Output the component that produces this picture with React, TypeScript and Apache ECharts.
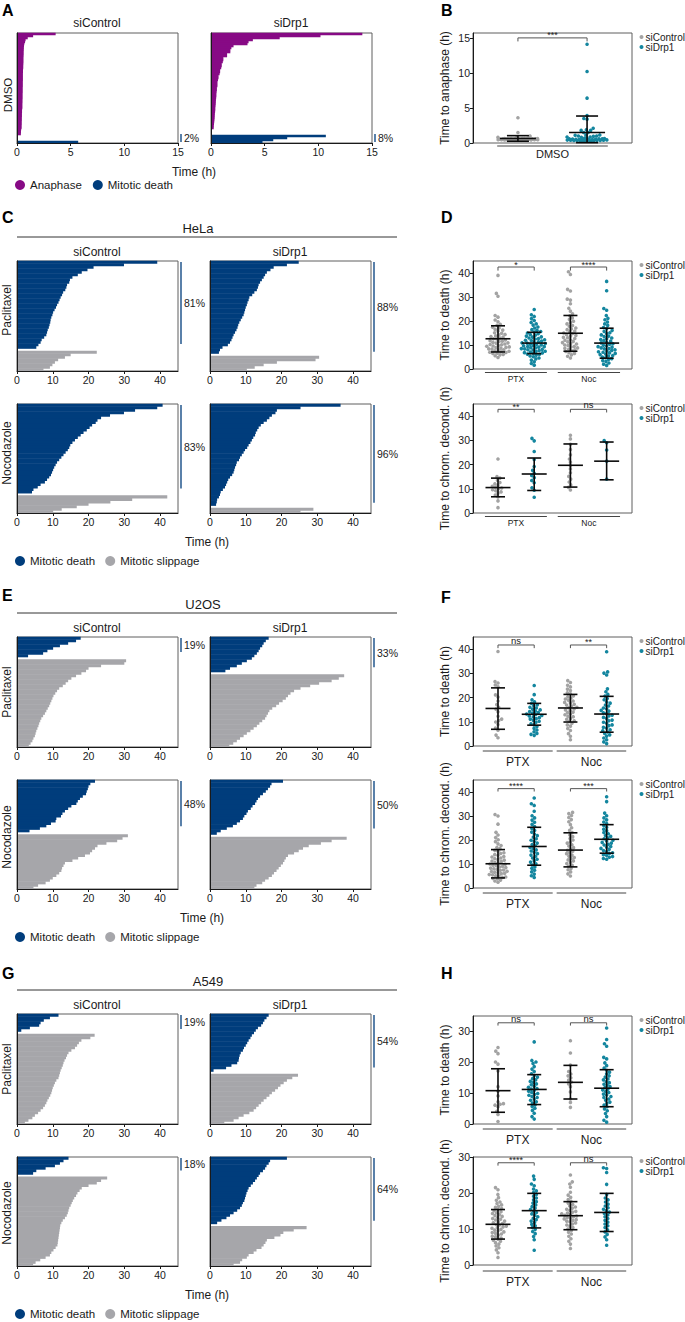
import React, { useEffect, useRef } from "react";
import * as echarts from "echarts";

const FONT = '"Liberation Sans", Arial, Helvetica, sans-serif';
const INK = "#1a1a1a";
const FRAME = "#5e5e5e";
const PURPLE = "#870a85";
const BLUE = "#003d7c";
const SLIP = "#a6a6aa";
const CTRL = "#a3a3a3";
const DRP1 = "#14869f";

// ---------- A / B : DMSO (time to anaphase / mitotic death, h; rows top to bottom)
const aCtrlAnaphase = [3.6, 1.5, 1.0, 0.8, 0.75, 0.68, 0.65, 0.64, 0.63, 0.62, 0.62, 0.61, 0.6, 0.6, 0.6, 0.59, 0.58, 0.58, 0.56, 0.56, 0.55, 0.55, 0.55, 0.55, 0.54, 0.54, 0.54, 0.53, 0.53, 0.53, 0.52, 0.52, 0.52, 0.51, 0.51, 0.5, 0.5, 0.5, 0.47, 0.47, 0.46, 0.46, 0.45, 0.45, 0.44, 0.44, 0.43, 0.43, 0.38, 0.37, 0.36];
const aCtrlDeath = [5.7];
const aDrp1Anaphase = [14.1, 10.2, 6.4, 3.9, 3.5, 3.4, 2.1, 1.9, 1.8, 1.8, 1.5, 1.5, 1.15, 1.15, 1.1, 1.0, 1.0, 0.95, 0.85, 0.85, 0.8, 0.7, 0.7, 0.65, 0.6, 0.6, 0.6, 0.55, 0.55, 0.52, 0.5, 0.5, 0.48, 0.46, 0.45, 0.44, 0.42, 0.4, 0.4, 0.38, 0.36, 0.35, 0.34, 0.32, 0.3, 0.28, 0.26, 0.25];
const aDrp1Death = [10.7, 7.1, 5.8, 4.8];
const aPct = [2, 8];
const bStats = [[0.65, 0.25, 1.05], [1.5, 0.05, 3.85]];
const bSig = ["***"];
const bGroup = ["DMSO"];

// ---------- C : HeLa
const helaPtxCtrlDeath = [39.2, 29.9, 21.4, 19.7, 18.1, 17.0, 15.5, 14.8, 14.6, 14.0, 13.8, 13.5, 12.9, 12.6, 12.2, 11.9, 11.6, 11.2, 10.9, 10.5, 10.1, 9.9, 9.6, 9.4, 9.3, 9.1, 8.9, 8.6, 8.4, 8.2, 7.6, 6.9, 6.6, 6.0, 5.4];
const helaPtxCtrlSlip = [22.3, 15.0, 13.4, 11.5, 10.6, 9.9, 9.2, 7.4];
const helaPtxDrp1Death = [24.8, 21.5, 17.8, 16.9, 15.9, 15.4, 15.0, 14.5, 14.0, 13.6, 13.4, 13.1, 12.4, 11.8, 11.0, 10.8, 10.5, 10.3, 10.0, 9.8, 9.6, 9.4, 9.0, 8.6, 8.2, 7.9, 7.7, 7.4, 7.0, 6.6, 6.3, 6.0, 5.6, 5.0, 3.5, 2.8, 2.5];
const helaPtxDrp1Slip = [30.5, 29.5, 18.7, 15.0, 12.5, 10.3];
const helaNocCtrlDeath = [40.7, 39.2, 33.0, 29.9, 26.0, 23.5, 22.5, 22.0, 21.0, 20.3, 19.5, 18.6, 17.8, 17.0, 16.2, 15.5, 14.9, 14.6, 14.2, 13.6, 13.0, 12.4, 11.8, 11.2, 10.8, 10.4, 10.1, 9.8, 9.5, 9.0, 8.4, 7.8, 6.6, 5.8, 4.6, 4.2];
const helaNocCtrlSlip = [42.0, 32.2, 26.1, 20.0, 16.7, 12.5, 10.1];
const helaNocDrp1Death = [36.5, 25.3, 18.7, 18.3, 17.3, 16.6, 15.9, 15.0, 14.2, 13.6, 13.2, 12.8, 12.6, 12.1, 11.7, 11.3, 10.8, 10.4, 9.8, 9.4, 8.9, 8.4, 8.1, 7.5, 7.3, 7.0, 6.8, 6.6, 6.2, 5.6, 5.1, 4.8, 4.5, 4.2, 3.6, 3.0, 2.8, 2.5, 2.0, 1.9, 1.7];
const helaNocDrp1Slip = [28.9, 25.3];
const helaPct = [81, 88, 83, 96];

// ---------- E : U2OS
const u2osPtxCtrlDeath = [17.8, 16.5, 14.3, 12.0, 10.1, 8.5, 7.3, 3.1];
const u2osPtxCtrlSlip = [30.5, 30.0, 23.5, 20.0, 19.3, 18.0, 16.5, 15.2, 14.3, 13.6, 12.8, 11.8, 11.2, 10.7, 10.2, 9.9, 9.6, 9.3, 9.0, 8.6, 8.2, 7.8, 7.3, 6.8, 6.5, 6.2, 6.0, 5.7, 5.4, 5.2, 5.0, 4.6, 4.3, 3.8, 3.3];
const u2osPtxDrp1Death = [16.4, 15.6, 15.0, 14.6, 14.0, 13.6, 13.1, 12.4, 11.7, 10.3, 8.9, 7.5, 5.6, 4.3];
const u2osPtxDrp1Slip = [37.5, 36.0, 34.0, 30.5, 28.0, 25.3, 23.5, 22.5, 21.8, 21.2, 20.3, 19.3, 18.5, 17.4, 16.6, 16.2, 15.8, 15.4, 14.6, 13.8, 13.1, 12.2, 11.3, 10.3, 9.4, 8.4, 7.5, 6.5, 5.4];
const u2osNocCtrlDeath = [21.8, 20.5, 20.0, 19.8, 19.5, 19.3, 18.4, 17.6, 17.0, 16.6, 15.2, 14.3, 13.4, 12.7, 12.3, 11.0, 10.8, 9.5, 8.2, 6.4, 3.5];
const u2osNocCtrlSlip = [31.0, 29.5, 28.0, 25.0, 22.5, 21.8, 21.0, 20.4, 19.0, 17.1, 15.5, 13.4, 13.0, 12.6, 12.4, 11.8, 11.0, 10.0, 9.2, 8.0, 5.9, 4.6];
const u2osNocDrp1Death = [20.4, 17.2, 16.8, 16.2, 15.6, 14.8, 14.0, 13.4, 13.0, 12.6, 11.9, 11.4, 10.6, 10.2, 9.6, 9.2, 8.4, 7.5, 6.4, 4.7, 3.0, 1.9];
const u2osNocDrp1Slip = [38.2, 34.0, 31.0, 27.6, 26.0, 24.8, 23.5, 21.8, 21.2, 20.8, 20.4, 19.8, 19.2, 18.6, 17.9, 17.3, 16.4, 15.4, 14.6, 13.0, 12.4];
const u2osPct = [19, 33, 48, 50];

// ---------- G : A549
const a549PtxCtrlDeath = [11.6, 9.2, 7.5, 6.6, 6.2, 3.6, 1.2];
const a549PtxCtrlSlip = [21.7, 20.5, 18.0, 17.3, 16.8, 16.2, 15.2, 14.4, 14.0, 13.7, 13.3, 13.0, 12.8, 12.5, 12.2, 12.0, 11.8, 11.6, 11.0, 10.6, 10.3, 10.0, 9.8, 9.6, 9.3, 8.9, 8.5, 8.2, 7.8, 7.3, 6.6, 5.9, 5.0, 4.3, 3.2, 2.2];
const a549PtxDrp1Death = [16.4, 15.8, 15.2, 14.8, 14.3, 13.4, 12.8, 12.3, 11.7, 11.3, 10.8, 10.4, 10.0, 9.5, 9.2, 8.6, 8.3, 8.1, 8.0, 7.6, 6.0, 4.5, 1.0];
const a549PtxDrp1Slip = [24.6, 23.0, 21.5, 20.6, 19.7, 19.0, 18.2, 17.3, 16.6, 15.8, 15.0, 14.3, 13.6, 12.9, 12.2, 11.0, 9.4, 8.0, 6.6, 4.0];
const a549NocCtrlDeath = [14.4, 13.0, 12.0, 10.6, 8.0, 5.4, 4.5];
const a549NocCtrlSlip = [25.2, 23.5, 22.3, 20.0, 18.1, 17.5, 16.9, 16.5, 16.0, 15.6, 15.3, 15.0, 14.6, 14.4, 14.2, 13.9, 13.4, 12.8, 12.4, 12.1, 12.0, 11.9, 11.8, 11.7, 11.6, 11.5, 11.4, 11.3, 10.8, 10.2, 9.6, 9.2, 8.0, 6.5, 5.2, 4.5];
const a549NocDrp1Death = [21.5, 16.8, 16.4, 15.8, 15.4, 14.8, 14.0, 13.6, 13.1, 12.6, 12.0, 11.4, 10.8, 10.5, 10.2, 10.0, 9.8, 9.6, 9.2, 8.9, 8.4, 7.6, 6.6, 5.6, 4.6, 3.2, 2.0];
const a549NocDrp1Slip = [27.0, 23.4, 20.5, 19.7, 18.0, 15.9, 15.5, 15.0, 14.4, 13.0, 12.2, 10.8, 10.3, 9.0, 8.4, 6.6];
const a549Pct = [19, 54, 18, 64];

// ---------- D : HeLa dot plots
const groupNames = ["PTX", "Noc"];
const dDeathPtxCtrl = [39.0, 31.5, 30.3, 22.3, 21.6, 20.4, 19.7, 18.6, 18.2, 17.4, 17.1, 16.5, 16.2, 15.8, 15.1, 14.9, 14.4, 14.2, 13.8, 13.5, 13.3, 12.9, 12.6, 12.5, 12.1, 11.8, 11.6, 11.5, 11.1, 10.9, 10.8, 10.4, 10.2, 10.1, 9.8, 9.6, 9.5, 9.2, 9.0, 8.9, 8.7, 8.4, 8.3, 8.0, 7.9, 7.6, 7.4, 7.2, 7.0, 6.9, 6.6, 6.5, 6.1, 5.9, 5.5, 4.8];
const dDeathPtxDrp1 = [24.8, 22.6, 21.9, 21.0, 20.2, 19.4, 18.8, 18.3, 17.5, 17.1, 16.4, 16.1, 15.6, 15.4, 15.0, 14.7, 14.3, 14.1, 13.7, 13.4, 13.3, 12.9, 12.7, 12.5, 12.2, 12.0, 11.9, 11.6, 11.3, 11.2, 10.9, 10.8, 10.6, 10.3, 10.2, 10.0, 9.8, 9.7, 9.4, 9.3, 9.1, 8.9, 8.8, 8.5, 8.4, 8.2, 8.0, 7.9, 7.7, 7.4, 7.3, 7.1, 6.8, 6.7, 6.5, 6.2, 6.1, 5.8, 5.4, 5.1, 4.6, 4.2, 3.7, 3.0, 2.3, 1.6];
const dDeathNocCtrl = [40.5, 39.4, 33.2, 32.5, 29.1, 28.7, 27.2, 25.3, 24.1, 23.0, 22.2, 21.3, 20.7, 19.9, 19.4, 18.8, 18.1, 17.8, 17.1, 16.7, 16.4, 15.8, 15.5, 15.0, 14.8, 14.3, 14.0, 13.7, 13.2, 13.0, 12.7, 12.2, 12.0, 11.5, 11.3, 11.0, 10.6, 10.4, 10.0, 9.8, 9.4, 9.2, 8.8, 8.6, 8.2, 8.0, 7.6, 7.3, 6.8, 6.5, 5.9, 5.3, 4.6];
const dDeathNocDrp1 = [36.5, 32.6, 25.2, 24.5, 22.3, 21.1, 20.5, 19.6, 18.8, 18.2, 17.3, 16.9, 16.1, 15.7, 15.1, 14.8, 14.2, 13.7, 13.5, 12.9, 12.6, 12.3, 11.8, 11.6, 11.1, 10.9, 10.5, 10.3, 9.9, 9.7, 9.3, 9.1, 8.8, 8.5, 8.4, 8.0, 7.7, 7.5, 7.2, 7.0, 6.7, 6.5, 6.2, 6.0, 5.6, 5.4, 5.0, 4.7, 4.3, 4.0, 3.5, 3.1, 2.5, 2.0, 1.5];
const dDeathStats = [[12.6, 7.1, 18.0], [10.8, 6.4, 15.3], [14.9, 7.4, 22.3], [10.8, 4.5, 17.0]];
const dDeathSig = ["*", "****"];
const dDecPtxCtrl = [22.3, 15.0, 14.4, 13.5, 12.6, 12.0, 11.5, 11.0, 10.6, 10.3, 10.0, 9.6, 9.2, 8.7, 8.2, 7.4, 6.6, 5.0, 2.2];
const dDecPtxDrp1 = [30.8, 29.8, 25.4, 22.1, 19.2, 17.6, 16.4, 15.5, 14.6, 13.4, 12.5, 10.4, 9.4, 6.5];
const dDecNocCtrl = [32.1, 30.6, 28.4, 26.2, 24.0, 22.3, 21.0, 19.6, 18.2, 16.6, 15.1, 14.0, 12.8, 11.6, 10.6, 9.5];
const dDecNocDrp1 = [29.9, 29.0, 26.0, 21.4, 14.0];
const dDecStats = [[10.5, 6.7, 14.4], [16.1, 9.3, 22.7], [19.7, 10.7, 28.5], [21.4, 13.7, 29.3]];
const dDecSig = ["**", "ns"];

// ---------- F : U2OS dot plots
const fDeathPtxCtrl = [39.0, 26.6, 26.0, 25.2, 24.4, 21.1, 20.2, 18.6, 17.1, 16.0, 15.2, 14.1, 12.3, 11.1, 10.5, 9.9, 8.9, 7.4, 6.5, 4.5, 3.4];
const fDeathPtxDrp1 = [25.0, 21.2, 19.1, 18.2, 17.6, 17.0, 16.6, 16.0, 15.7, 15.2, 14.9, 14.4, 14.2, 13.8, 13.6, 13.2, 13.0, 12.6, 12.4, 12.0, 11.7, 11.3, 11.1, 10.6, 10.2, 9.8, 9.2, 8.7, 8.0, 7.3, 6.6, 5.9, 5.2, 4.8, 4.4];
const fDeathNocCtrl = [27.0, 26.2, 25.1, 24.4, 23.5, 22.9, 22.0, 21.5, 20.7, 20.3, 19.8, 19.4, 18.9, 18.6, 18.0, 17.8, 17.2, 16.9, 16.5, 16.0, 15.8, 15.3, 14.9, 14.6, 14.0, 13.8, 13.2, 12.9, 12.3, 12.1, 11.4, 11.0, 10.4, 10.1, 9.4, 8.7, 8.2, 7.2, 6.4, 5.1, 4.0, 2.6];
const fDeathNocDrp1 = [38.9, 30.6, 30.1, 29.3, 23.6, 22.4, 21.3, 20.6, 19.6, 19.1, 18.2, 17.7, 16.9, 16.5, 15.7, 15.4, 14.7, 14.4, 13.7, 13.4, 12.7, 12.4, 11.8, 11.4, 10.7, 10.4, 9.8, 9.4, 8.7, 8.4, 7.7, 7.4, 6.7, 6.3, 5.8, 5.2, 4.6, 4.1, 3.3, 2.6, 1.7, 1.0];
const fDeathStats = [[15.5, 6.9, 24.0], [13.1, 8.6, 17.6], [15.7, 9.9, 21.3], [13.2, 5.7, 20.5]];
const fDeathSig = ["ns", "**"];
const fDecPtxCtrl = [30.6, 30.0, 26.6, 23.2, 22.1, 21.0, 20.1, 19.3, 18.4, 17.7, 16.9, 16.4, 15.7, 15.3, 14.7, 14.4, 13.9, 13.6, 13.1, 12.9, 12.5, 12.2, 11.8, 11.6, 11.2, 11.0, 10.6, 10.4, 10.0, 9.9, 9.5, 9.3, 9.0, 8.8, 8.5, 8.3, 8.0, 7.8, 7.5, 7.4, 7.0, 6.9, 6.6, 6.4, 6.1, 6.0, 5.6, 5.5, 5.1, 5.0, 4.6, 4.4, 4.0, 3.8, 3.3, 2.9, 2.4];
const fDecPtxDrp1 = [37.5, 35.1, 34.4, 32.0, 30.1, 29.2, 28.3, 27.4, 26.5, 25.6, 24.8, 24.0, 23.3, 22.5, 21.8, 21.2, 20.5, 19.9, 19.4, 18.7, 18.1, 17.6, 16.9, 16.5, 15.9, 15.4, 14.8, 14.3, 13.7, 13.2, 12.5, 12.0, 11.3, 10.8, 10.1, 9.6, 8.8, 8.2, 7.4, 6.7, 5.8, 5.1, 4.4];
const fDecNocCtrl = [31.5, 31.0, 30.2, 29.4, 28.5, 27.6, 26.4, 25.1, 24.0, 23.1, 22.1, 21.4, 20.6, 20.0, 19.2, 18.7, 18.0, 17.5, 16.8, 16.3, 15.7, 15.3, 14.7, 14.3, 13.7, 13.3, 12.7, 12.3, 11.7, 11.3, 10.7, 10.2, 9.5, 9.0, 8.2, 7.6, 6.7, 5.9, 5.0];
const fDecNocDrp1 = [38.0, 36.0, 31.2, 30.1, 29.2, 28.4, 27.5, 26.8, 26.0, 25.3, 24.5, 23.9, 23.1, 22.6, 21.9, 21.5, 20.9, 20.5, 19.9, 19.6, 19.0, 18.7, 18.2, 17.9, 17.3, 17.0, 16.5, 16.1, 15.6, 15.2, 14.7, 14.4, 13.9, 13.6, 13.1, 12.8, 12.3, 12.0];
const fDecStats = [[10.1, 4.2, 16.0], [17.3, 9.5, 25.3], [15.8, 8.8, 23.0], [20.3, 14.5, 26.4]];
const fDecSig = ["****", "***"];

// ---------- H : A549 dot plots
const hDeathPtxCtrl = [24.8, 23.6, 22.8, 20.1, 19.4, 17.2, 12.1, 10.6, 9.1, 7.2, 6.6, 6.4, 6.1, 5.6, 4.1, 3.1, 0.8];
const hDeathPtxDrp1 = [26.6, 20.6, 20.1, 19.6, 18.6, 17.8, 17.0, 16.3, 15.7, 15.2, 14.7, 14.3, 13.8, 13.5, 13.0, 12.7, 12.2, 11.9, 11.5, 11.3, 10.9, 10.6, 10.2, 9.9, 9.6, 9.3, 8.9, 8.6, 8.1, 7.7, 7.2, 6.8, 6.2, 5.7, 5.1, 4.4, 3.5, 2.4, 1.6];
const hDeathNocCtrl = [27.0, 23.0, 19.1, 17.0, 16.2, 15.6, 15.0, 14.2, 13.6, 13.0, 12.1, 10.4, 8.1, 7.0, 5.4];
const hDeathNocDrp1 = [31.1, 27.4, 26.0, 25.2, 21.6, 21.1, 19.8, 18.9, 18.1, 17.4, 16.8, 16.3, 15.6, 15.2, 14.6, 14.3, 13.7, 13.4, 12.9, 12.6, 12.1, 11.8, 11.3, 11.0, 10.5, 10.2, 9.7, 9.4, 8.9, 8.6, 8.1, 7.7, 7.1, 6.7, 6.1, 5.6, 4.9, 4.3, 3.4, 2.4, 1.2, 0.6];
const hDeathStats = [[10.8, 3.8, 17.9], [11.2, 6.3, 16.0], [13.5, 8.1, 19.0], [11.6, 5.6, 17.6]];
const hDeathSig = ["ns", "ns"];
const hDecPtxCtrl = [21.5, 20.9, 19.6, 18.7, 18.0, 17.5, 17.1, 16.7, 16.3, 16.0, 15.7, 15.4, 15.1, 14.8, 14.5, 14.3, 14.0, 13.7, 13.5, 13.2, 12.9, 12.7, 12.5, 12.2, 12.0, 11.7, 11.5, 11.3, 11.1, 10.8, 10.6, 10.4, 10.2, 9.9, 9.7, 9.5, 9.2, 9.0, 8.8, 8.6, 8.3, 8.0, 7.8, 7.5, 7.2, 6.9, 6.6, 6.2, 5.8, 5.3, 4.8, 4.2, 3.4, 2.1];
const hDecPtxDrp1 = [24.7, 23.8, 22.5, 22.0, 21.1, 20.6, 20.1, 19.6, 19.1, 18.6, 18.1, 17.6, 17.2, 16.7, 16.2, 15.8, 15.4, 15.0, 14.6, 14.2, 13.8, 13.4, 13.0, 12.6, 12.2, 11.8, 11.3, 10.9, 10.4, 9.9, 9.3, 8.7, 7.9, 7.0, 4.1];
const hDecNocCtrl = [25.0, 23.1, 22.5, 21.6, 20.2, 19.4, 18.8, 18.2, 17.7, 17.2, 16.8, 16.4, 16.1, 15.8, 15.5, 15.2, 14.9, 14.7, 14.4, 14.2, 14.0, 13.8, 13.6, 13.4, 13.2, 13.0, 12.8, 12.6, 12.4, 12.2, 12.0, 11.7, 11.4, 11.1, 10.8, 10.4, 10.0, 9.6, 9.1, 8.6, 8.0, 7.3, 6.6, 5.8, 4.6];
const hDecNocDrp1 = [27.0, 26.8, 25.7, 22.4, 19.6, 18.6, 18.1, 17.5, 16.9, 16.4, 15.9, 15.5, 15.1, 14.7, 14.3, 13.9, 13.4, 12.9, 12.4, 11.9, 11.4, 10.9, 10.4, 9.8, 9.2, 8.5, 7.8, 7.0, 5.5];
const hDecStats = [[11.3, 7.2, 15.4], [15.1, 10.3, 19.9], [13.7, 9.8, 17.6], [14.6, 9.3, 19.9]];
const hDecSig = ["****", "ns"];

// ---------- beeswarm layout (horizontal offsets in px, from the values)
function swarm(values: number[], pxPerY: number, d: number, maxHalf: number): number[] {
  const order = values.map((_, i) => i).sort((a, b) => values[a] - values[b]);
  const placed: number[][] = [];
  const out: number[] = new Array(values.length).fill(0);
  for (const i of order) {
    const y = values[i] * pxPerY;
    const near = placed.filter((p) => Math.abs(p[1] - y) < d);
    const cands = [0];
    for (const p of near) {
      const dx = Math.sqrt(d * d - (p[1] - y) * (p[1] - y));
      cands.push(p[0] + dx, p[0] - dx);
    }
    cands.sort((a, b) => Math.abs(a) - Math.abs(b) || a - b);
    let x: number | null = null;
    for (const c of cands) {
      if (Math.abs(c) > maxHalf) continue;
      if (near.every((p) => (p[0] - c) ** 2 + (p[1] - y) ** 2 >= d * d - 1e-6)) {
        x = c;
        break;
      }
    }
    if (x === null) {
      let best = 0;
      let bestScore = -1;
      for (let c = -maxHalf; c <= maxHalf + 1e-9; c += d / 3) {
        let m = Infinity;
        for (const p of near) m = Math.min(m, (p[0] - c) ** 2 + (p[1] - y) ** 2);
        if (m > bestScore) {
          bestScore = m;
          best = c;
        }
      }
      x = best;
    }
    placed.push([x, y]);
    out[i] = x;
  }
  return out;
}

function buildOption() {
  const grid: any[] = [];
  const xAxis: any[] = [];
  const yAxis: any[] = [];
  const series: any[] = [];
  const legend: any[] = [];
  const elements: any[] = [];

  const text = (x: number, y: number, t: string, extra: any = {}, rot = 0) =>
    elements.push({
      type: "text",
      x,
      y,
      rotation: rot,
      silent: true,
      z: 10,
      style: { text: t, fontFamily: FONT, fontSize: 12, fill: INK, align: "center", verticalAlign: "middle", ...extra },
    });
  const line = (x1: number, y1: number, x2: number, y2: number, color = "#333", w = 1) =>
    elements.push({ type: "line", silent: true, z: 10, shape: { x1, y1, x2, y2 }, style: { stroke: color, lineWidth: w } });
  const dot = (cx: number, cy: number, color: string) =>
    elements.push({ type: "circle", silent: true, z: 10, shape: { cx, cy, r: 2 }, style: { fill: color } });

  const BAR_W = 161;

  // a block of horizontal bars (one per cell), drawn from the values through the axes
  function rowSeries(idx: number, name: string, color: string, rows: number[], offset: number) {
    return {
      type: "custom",
      name,
      xAxisIndex: idx,
      yAxisIndex: idx,
      silent: true,
      z: 1,
      clip: false,
      itemStyle: { color },
      encode: { x: 0, y: 1 },
      data: rows.map((v, i) => [v, offset + i]),
      renderItem: (_params: any, api: any) => {
        const v = api.value(0);
        const r = api.value(1);
        const p0 = api.coord([0, r]);
        const p1 = api.coord([v, r]);
        const bh = api.size([0, 1])[1];
        return {
          type: "rect",
          shape: { x: p0[0], y: p0[1] - bh / 2 - 0.3, width: p1[0] - p0[0], height: bh + 0.6 },
          style: { fill: color },
        };
      },
    };
  }

  function barPanel(left: number, top: number, h: number, xMax: number, xTicks: number[], rowsA: number[], gap: number, rowsB: number[], nameA: string, colA: string, nameB: string, colB: string) {
    const idx = grid.length;
    grid.push({ left, top, width: BAR_W, height: h, show: true, borderColor: FRAME, borderWidth: 1, containLabel: false, outerBoundsMode: "none" });
    xAxis.push({
      gridIndex: idx,
      type: "value",
      min: 0,
      max: xMax,
      interval: xTicks[1] - xTicks[0],
      axisLine: { show: true, onZero: false, lineStyle: { color: INK, width: 1 } },
      axisTick: { show: true, length: 3, customValues: xTicks, lineStyle: { color: INK } },
      axisLabel: { customValues: xTicks, fontSize: 10.5, color: INK, margin: 3, fontFamily: FONT, formatter: (v: number) => (xTicks.includes(v) ? String(v) : "") },
      splitLine: { show: false },
      z: 3,
    });
    const n = rowsA.length + gap + rowsB.length;
    const cats = Array.from({ length: n }, (_, i) => String(i));
    yAxis.push({
      gridIndex: idx,
      type: "category",
      data: cats,
      inverse: true,
      axisLine: { show: true, onZero: false, lineStyle: { color: INK, width: 1 } },
      axisTick: { show: false },
      axisLabel: { show: false },
      splitLine: { show: false },
      z: 3,
    });
    series.push(rowSeries(idx, nameA, colA, rowsA, 0));
    series.push(rowSeries(idx, nameB, colB, rowsB, rowsA.length + gap));
  }

  function pctMarker(left: number, top: number, h: number, pct: number, small: boolean) {
    const x = left + BAR_W + 3;
    const y1 = small ? top + h - 9 : top + 1;
    const y2 = small ? top + h - 1 : top + Math.max(8, (h * pct) / 100 - 6);
    line(x, y1, x, y2, BLUE, 1.3);
    text(x + 3, (y1 + y2) / 2, pct + "%", { align: "left", fontSize: 10.5 });
  }

  function dotPanel(p: any) {
    const idx = grid.length;
    const L = 473;
    const W = 159;
    grid.push({ left: L, top: p.top, width: W, height: p.h, show: true, borderColor: FRAME, borderWidth: 1, containLabel: false, outerBoundsMode: "none" });
    xAxis.push({ gridIndex: idx, type: "value", min: p.xMin, max: p.xMax, show: false, axisLine: { onZero: false }, splitLine: { show: false } });
    yAxis.push({
      gridIndex: idx,
      type: "value",
      min: 0,
      max: p.yMax,
      interval: p.yTicks[1] - p.yTicks[0],
      name: p.yName,
      nameLocation: "middle",
      nameGap: 22,
      nameTextStyle: { fontSize: 12, color: INK, fontFamily: FONT },
      axisLine: { show: true, onZero: false, lineStyle: { color: INK, width: 1 } },
      axisTick: { show: true, length: 3, customValues: p.yTicks, lineStyle: { color: INK } },
      axisLabel: { customValues: p.yTicks, fontSize: 10.5, color: INK, margin: 3, fontFamily: FONT, formatter: (v: number) => (p.yTicks.includes(v) ? String(v) : "") },
      splitLine: { show: false },
    });
    const pxY = p.h / p.yMax;
    const pxX = W / (p.xMax - p.xMin);
    p.groups.forEach((vals: number[], g: number) => {
      const offs = swarm(vals, pxY, 3.3, p.spread);
      const isD = g % 2 === 1;
      series.push({
        type: "scatter",
        name: isD ? "siDrp1" : "siControl",
        xAxisIndex: idx,
        yAxisIndex: idx,
        symbol: "circle",
        symbolSize: 3.6,
        silent: true,
        z: 2,
        itemStyle: { color: isD ? DRP1 : CTRL, opacity: 1 },
        data: vals.map((v, i) => [p.pos[g] + offs[i] / pxX, v]),
      });
    });
    const mh = p.meanHalf;
    const ch = p.capHalf;
    series.push({
      type: "custom",
      xAxisIndex: idx,
      yAxisIndex: idx,
      silent: true,
      z: 5,
      clip: false,
      data: p.stats.map((s: number[], g: number) => [p.pos[g], s[0], s[1], s[2]]),
      renderItem: (_params: any, api: any) => {
        const x = api.value(0);
        const m = api.coord([x, api.value(1)]);
        const lo = api.coord([x, api.value(2)]);
        const hi = api.coord([x, api.value(3)]);
        const st = { stroke: "#0a0a0a", lineWidth: 1.6 };
        return {
          type: "group",
          children: [
            { type: "line", shape: { x1: m[0] - mh, y1: m[1], x2: m[0] + mh, y2: m[1] }, style: st },
            { type: "line", shape: { x1: lo[0] - ch, y1: lo[1], x2: lo[0] + ch, y2: lo[1] }, style: st },
            { type: "line", shape: { x1: hi[0] - ch, y1: hi[1], x2: hi[0] + ch, y2: hi[1] }, style: st },
            { type: "line", shape: { x1: lo[0], y1: lo[1], x2: hi[0], y2: hi[1] }, style: st },
          ],
        };
      },
    });
    const sig: string[] = p.sig;
    series.push({
      type: "custom",
      xAxisIndex: idx,
      yAxisIndex: idx,
      silent: true,
      z: 6,
      clip: false,
      data: p.brackets.map((b: number[]) => [b[0], p.brY[0], b[1], p.brY[1]]),
      renderItem: (params: any, api: any) => {
        const a = api.coord([api.value(0), api.value(1)]);
        const b = api.coord([api.value(2), api.value(1)]);
        const t = api.coord([api.value(0), api.value(3)]);
        const label = sig[params.dataIndex];
        return {
          type: "group",
          children: [
            { type: "polyline", shape: { points: [[a[0], t[1]], [a[0], a[1]], [b[0], b[1]], [b[0], t[1]]] }, style: { stroke: "#555", lineWidth: 1, fill: null } },
            { type: "text", x: (a[0] + b[0]) / 2, y: a[1] + (label === "ns" ? 0.5 : 2), style: { text: label, align: "center", verticalAlign: "bottom", fontSize: label === "ns" ? 9.5 : 9, fontFamily: FONT, fill: INK } },
          ],
        };
      },
    });
    const ulabels: string[] = p.underLabels;
    series.push({
      type: "custom",
      xAxisIndex: idx,
      yAxisIndex: idx,
      silent: true,
      z: 6,
      clip: false,
      data: p.under.map((u: number[]) => [u[0], 0, u[1]]),
      renderItem: (params: any, api: any) => {
        const a = api.coord([api.value(0), api.value(1)]);
        const b = api.coord([api.value(2), api.value(1)]);
        const y = a[1] + p.lineOff;
        return {
          type: "group",
          children: [
            { type: "line", shape: { x1: a[0], y1: y, x2: b[0], y2: y }, style: { stroke: "#444", lineWidth: 1 } },
            { type: "text", x: (a[0] + b[0]) / 2, y: y + p.labelOff, style: { text: ulabels[params.dataIndex], align: "center", verticalAlign: "middle", fontSize: p.labelFont, fontFamily: FONT, fill: INK } },
          ],
        };
      },
    });
    // legend (siControl / siDrp1) at the panel's top right
    dot(641.5, p.top + 4, CTRL);
    text(645.5, p.top + 4, "siControl", { align: "left", fontSize: 10 });
    dot(641.5, p.top + 14, DRP1);
    text(645.5, p.top + 14, "siDrp1", { align: "left", fontSize: 10 });
  }

  // ---------- panel letters
  const letters: [string, number, number][] = [
    ["A", 2, 10], ["B", 441, 10], ["C", 2, 217], ["D", 441, 217],
    ["E", 2, 595], ["F", 441, 597], ["G", 2, 973], ["H", 441, 973],
  ];
  letters.forEach(([t, x, y]) => text(x, y, t, { fontSize: 16, fontWeight: "bold", align: "left", fill: "#000" }));

  // ---------- A
  barPanel(17, 33, 110, 15, [0, 5, 10, 15], aCtrlAnaphase, 3, aCtrlDeath, "Anaphase", PURPLE, "Mitotic death", BLUE);
  barPanel(211, 33, 110, 15, [0, 5, 10, 15], aDrp1Anaphase, 3, aDrp1Death, "Anaphase", PURPLE, "Mitotic death", BLUE);
  pctMarker(17, 33, 110, aPct[0], true);
  pctMarker(211, 33, 110, aPct[1], true);
  text(97, 23, "siControl");
  text(291, 23, "siDrp1");
  text(7.5, 95, "DMSO", { fontSize: 11.5 }, Math.PI / 2);
  text(194, 172, "Time (h)");
  legend.push({ data: ["Anaphase", "Mitotic death"], left: 15, top: 179, icon: "circle", itemWidth: 10, itemHeight: 10, itemGap: 11, padding: 0, selectedMode: false, textStyle: { fontSize: 11.5, color: INK, fontFamily: FONT } });

  // ---------- C, E, G
  const blocks = [
    { base: 237, title: "HeLa", titleX: 198, timeX: 207, rowY: [310, 453], pct: helaPct,
      rows: [[helaPtxCtrlDeath, helaPtxCtrlSlip], [helaPtxDrp1Death, helaPtxDrp1Slip], [helaNocCtrlDeath, helaNocCtrlSlip], [helaNocDrp1Death, helaNocDrp1Slip]] },
    { base: 613, title: "U2OS", titleX: 203, timeX: 202, rowY: [692, 837], pct: u2osPct,
      rows: [[u2osPtxCtrlDeath, u2osPtxCtrlSlip], [u2osPtxDrp1Death, u2osPtxDrp1Slip], [u2osNocCtrlDeath, u2osNocCtrlSlip], [u2osNocDrp1Death, u2osNocDrp1Slip]] },
    { base: 990, title: "A549", titleX: 208, timeX: 207, rowY: [1069, 1213], pct: a549Pct,
      rows: [[a549PtxCtrlDeath, a549PtxCtrlSlip], [a549PtxDrp1Death, a549PtxDrp1Slip], [a549NocCtrlDeath, a549NocCtrlSlip], [a549NocDrp1Death, a549NocDrp1Slip]] },
  ];
  const drugs = ["Paclitaxel", "Nocodazole"];
  blocks.forEach((b) => {
    text(b.titleX, b.base - 9, b.title, { fontSize: 13 });
    line(17, b.base, 397, b.base, "#333", 1);
    text(97, b.base + 15, "siControl");
    text(290, b.base + 15, "siDrp1");
    for (let r = 0; r < 2; r++) {
      const top = b.base + (r ? 167 : 24);
      const h = r ? 109 : 110;
      for (let c = 0; c < 2; c++) {
        const left = c ? 210 : 17;
        const k = r * 2 + c;
        barPanel(left, top, h, 45, [0, 10, 20, 30, 40], b.rows[k][0], 1, b.rows[k][1], "Mitotic death", BLUE, "Mitotic slippage", SLIP);
        pctMarker(left, top, h, b.pct[k], false);
      }
      text(7, b.rowY[r], drugs[r], {}, Math.PI / 2);
    }
    text(b.timeX, b.base + 305, "Time (h)");
    legend.push({ data: ["Mitotic death", "Mitotic slippage"], left: 15, top: b.base + 318, icon: "circle", itemWidth: 10, itemHeight: 10, itemGap: 10, padding: 0, selectedMode: false, textStyle: { fontSize: 11.5, color: INK, fontFamily: FONT } });
  });

  // ---------- B, D, F, H
  const four = { xMin: 0.31, xMax: 4.7, pos: [1, 2, 3, 4], brackets: [[1, 2], [3, 4]], underLabels: groupNames, meanHalf: 12.5, capHalf: 7, spread: 15 };
  const underD = [[0.64, 2.35], [2.65, 4.37]];
  const underFH = [[0.58, 2.51], [2.62, 4.54]];
  dotPanel({ top: 33, h: 110, yMax: 15.7, yTicks: [0, 5, 10, 15], yName: "Time to anaphase (h)", xMin: -0.65, xMax: 1.65, pos: [0, 1],
    groups: [aCtrlAnaphase, aDrp1Anaphase], stats: bStats, brackets: [[0, 1]], brY: [15, 14.5], sig: bSig,
    under: [[-0.3, 1.3]], underLabels: bGroup, labelFont: 11, lineOff: 3, labelOff: 7.5, meanHalf: 18, capHalf: 11, spread: 20 });
  dotPanel({ ...four, top: 261, h: 108, yMax: 45, yTicks: [0, 10, 20, 30, 40], yName: "Time to death (h)",
    groups: [dDeathPtxCtrl, dDeathPtxDrp1, dDeathNocCtrl, dDeathNocDrp1], stats: dDeathStats, brY: [42.5, 41], sig: dDeathSig,
    under: underD, labelFont: 8.5, lineOff: 3.5, labelOff: 6.5 });
  dotPanel({ ...four, top: 404, h: 109, yMax: 45, yTicks: [0, 10, 20, 30, 40], yName: "Time to chrom. decond. (h)",
    groups: [dDecPtxCtrl, dDecPtxDrp1, dDecNocCtrl, dDecNocDrp1], stats: dDecStats, brY: [42.8, 41.5], sig: dDecSig,
    under: underD, labelFont: 8.5, lineOff: 3.5, labelOff: 6.5 });
  dotPanel({ ...four, top: 637, h: 109, yMax: 45, yTicks: [0, 10, 20, 30, 40], yName: "Time to death (h)",
    groups: [fDeathPtxCtrl, fDeathPtxDrp1, fDeathNocCtrl, fDeathNocDrp1], stats: fDeathStats, brY: [41.7, 40.4], sig: fDeathSig,
    under: underFH, labelFont: 12, lineOff: 5, labelOff: 11 });
  dotPanel({ ...four, top: 780, h: 108, yMax: 45, yTicks: [0, 10, 20, 30, 40], yName: "Time to chrom. decond. (h)",
    groups: [fDecPtxCtrl, fDecPtxDrp1, fDecNocCtrl, fDecNocDrp1], stats: fDecStats, brY: [41.4, 40.2], sig: fDecSig,
    under: underFH, labelFont: 12, lineOff: 5, labelOff: 11 });
  dotPanel({ ...four, top: 1016, h: 108, yMax: 35, yTicks: [0, 10, 20, 30], yName: "Time to death (h)",
    groups: [hDeathPtxCtrl, hDeathPtxDrp1, hDeathNocCtrl, hDeathNocDrp1], stats: hDeathStats, brY: [32.8, 31.9], sig: hDeathSig,
    under: underFH, labelFont: 12, lineOff: 5, labelOff: 10.5 });
  dotPanel({ ...four, top: 1157, h: 108, yMax: 30, yTicks: [0, 10, 20, 30], yName: "Time to chrom. decond. (h)",
    groups: [hDecPtxCtrl, hDecPtxDrp1, hDecNocCtrl, hDecNocDrp1], stats: hDecStats, brY: [28.4, 27.6], sig: hDecSig,
    under: underFH, labelFont: 12, lineOff: 6, labelOff: 10.5 });

  return {
    animation: false,
    backgroundColor: "#ffffff",
    textStyle: { fontFamily: FONT },
    grid,
    xAxis,
    yAxis,
    series,
    legend,
    graphic: { elements },
  };
}

export default function App() {
  const ref = useRef<HTMLDivElement>(null);
  useEffect(() => {
    if (!ref.current) return;
    const chart = echarts.init(ref.current, undefined, { renderer: "svg" });
    chart.setOption(buildOption() as any);
    return () => chart.dispose();
  }, []);
  return <div ref={ref} style={{ position: "absolute", left: 0, top: 0, width: 685, height: 1322, background: "#fff" }} />;
}
